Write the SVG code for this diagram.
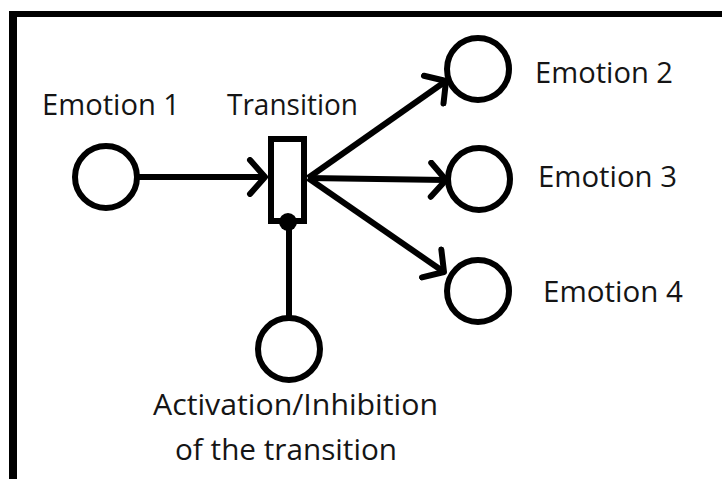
<svg xmlns="http://www.w3.org/2000/svg" width="722" height="479" viewBox="0 0 722 479">
  <style>
    .place { fill: #fff; stroke: #000; stroke-width: 6; }
    .edge { fill: none; stroke: #000; stroke-width: 6; }
    .label { font-family: "Open Sans", "Liberation Sans", sans-serif; font-size: 30px; fill: #151515; }
  </style>
  <defs>
    <marker id="arrow" markerUnits="userSpaceOnUse" markerWidth="40" markerHeight="40" viewBox="-24 -20 28 40" refX="0" refY="0" orient="auto">
      <path d="M -15 -17 L 0 0 L -15 17" fill="none" stroke="#000" stroke-width="6" stroke-linecap="round" stroke-linejoin="round"/>
    </marker>
  </defs>

  <rect width="722" height="479" fill="#fff"/>
  <!-- frame (open to the right and bottom) -->
  <g id="frame">
    <line x1="9" y1="14" x2="722" y2="14" stroke="#000" stroke-width="6"/>
    <line x1="13" y1="11" x2="13" y2="479" stroke="#000" stroke-width="8"/>
  </g>

  <!-- connectors -->
  <g id="connectors">
    <line class="edge" x1="137" y1="177" x2="265" y2="177" marker-end="url(#arrow)"/>
    <line class="edge" x1="308" y1="178" x2="446" y2="81" marker-end="url(#arrow)"/>
    <line class="edge" x1="308" y1="178" x2="446" y2="180" marker-end="url(#arrow)"/>
    <line class="edge" x1="308" y1="178" x2="444" y2="272" marker-end="url(#arrow)"/>
    <line class="edge" x1="289" y1="222" x2="289" y2="318"/>
  </g>

  <g id="emotion1">
    <circle class="place" cx="106" cy="177" r="31"/>
    <text class="label" x="42" y="115" textLength="138" lengthAdjust="spacingAndGlyphs">Emotion 1</text>
  </g>

  <g id="transition">
    <rect class="place" x="271" y="139" width="33" height="82" stroke-width="7"/>
    <circle cx="288" cy="222" r="9" fill="#000"/>
    <text class="label" x="227" y="115" textLength="131" lengthAdjust="spacingAndGlyphs">Transition</text>
  </g>

  <g id="emotion2">
    <circle class="place" cx="478" cy="69" r="31"/>
    <text class="label" x="535" y="83" textLength="138" lengthAdjust="spacingAndGlyphs">Emotion 2</text>
  </g>

  <g id="emotion3">
    <circle class="place" cx="479" cy="179" r="31"/>
    <text class="label" x="538" y="187" textLength="139" lengthAdjust="spacingAndGlyphs">Emotion 3</text>
  </g>

  <g id="emotion4">
    <circle class="place" cx="478" cy="291" r="31"/>
    <text class="label" x="543" y="302" textLength="140" lengthAdjust="spacingAndGlyphs">Emotion 4</text>
  </g>

  <g id="activation">
    <circle class="place" cx="289" cy="349" r="31"/>
    <text class="label" x="153" y="415" textLength="285" lengthAdjust="spacingAndGlyphs">Activation/Inhibition</text>
    <text class="label" x="175" y="460" textLength="222" lengthAdjust="spacingAndGlyphs">of the transition</text>
  </g>
</svg>
